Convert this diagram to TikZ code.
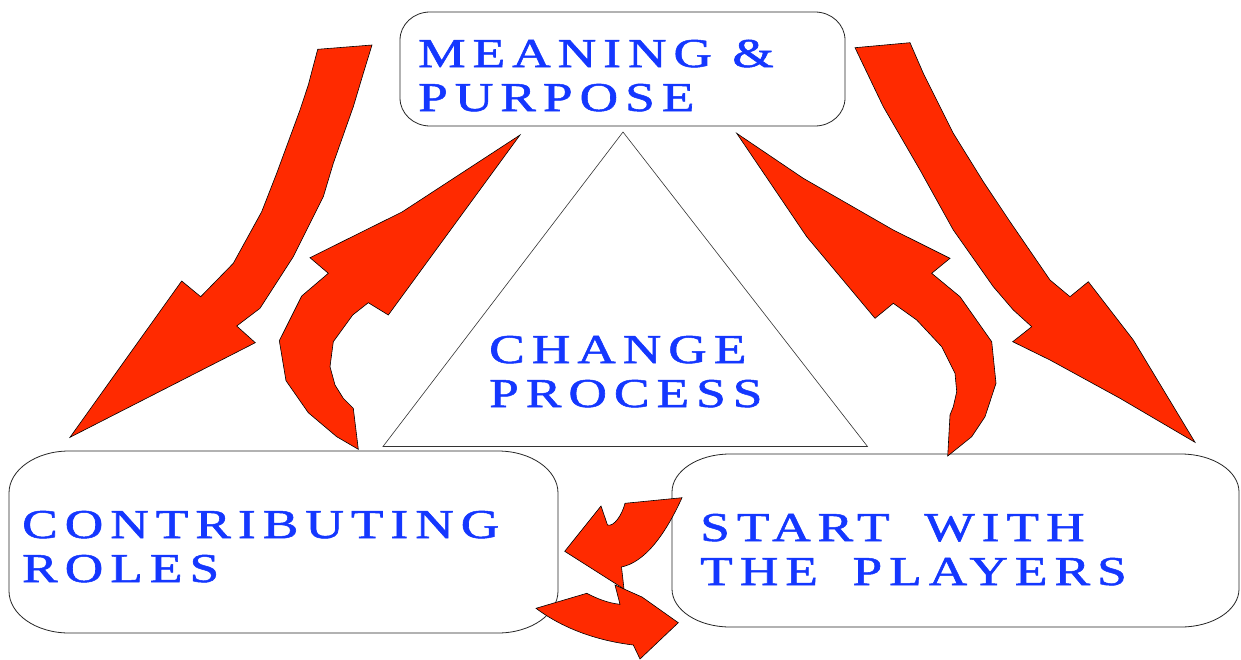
\documentclass[tikz,border=0pt]{standalone}
\usepackage{graphicx}
\usepackage{fontspec}
\newfontfamily\lblfont[LetterSpace=13.2, FakeBold=1.2]{Liberation Serif}

\definecolor{lblblue}{RGB}{20,55,255}
\definecolor{arrowred}{RGB}{255,42,0}

% rounded frame with elliptical corners: x0, y0, x1, y1, rx, ry
\newcommand\ovalrect[6]{%
  \draw[boxline] ({#1+#5},#2) -- ({#3-#5},#2)
    .. controls ({#3-0.448*#5},#2) and (#3,{#2+0.448*#6}) .. (#3,{#2+#6})
    -- (#3,{#4-#6})
    .. controls (#3,{#4-0.448*#6}) and ({#3-0.448*#5},#4) .. ({#3-#5},#4)
    -- ({#1+#5},#4)
    .. controls ({#1+0.448*#5},#4) and (#1,{#4-0.448*#6}) .. (#1,{#4-#6})
    -- (#1,{#2+#6})
    .. controls (#1,{#2+0.448*#6}) and ({#1+0.448*#5},#2) .. ({#1+#5},#2)
    -- cycle;}

% stretched, letter-spaced two-line caption
\newcommand\caplines[2]{\scalebox{1.3}[1]{\begin{tabular}[t]{@{}l@{}}#1\\#2\end{tabular}}}
% wider gap between words
\newcommand\wgap{\hspace{11pt}}

\begin{document}
\begin{tikzpicture}[x=1pt,y=-1pt,
  boxline/.style={draw=black!85, line width=0.8pt, fill=white},
  tri/.style={draw=black!80, line width=0.6pt},
  blockarrow/.style={fill=arrowred, draw=black, line width=0.6pt, line join=miter},
  lbl/.style={font=\lblfont\fontsize{41}{44}\selectfont, text=lblblue,
    inner sep=0pt, anchor=base west}]

\useasboundingbox[fill=white] (0,0) rectangle (1241,659);

% frames
\ovalrect{400}{12}{845}{126}{30}{28}
\ovalrect{9}{451}{558}{633}{60}{42}
\ovalrect{672}{454}{1239}{627}{58}{38}

% central triangle
\draw[tri] (623,132) -- (867.5,446.5) -- (383,446.5) -- cycle;

% captions
\node[lbl] (meaning) at (418,67) {\caplines{MEANING \&}{PURPOSE}};
\node[lbl] (change) at (489,363) {\caplines{CHANGE}{PROCESS}};
\node[lbl] (roles) at (22,538) {\caplines{CONTRIBUTING}{ROLES}};
\node[lbl] (players) at (700,541) {\caplines{START \wgap WITH}{THE \wgap PLAYERS}};

% left side: down-left arrow
\draw[blockarrow] (317.7,49.3) -- (372,45) -- (363.3,73.3) -- (353.3,106.7)
  -- (333.3,163.3) -- (323.3,196.7) -- (293.3,256.7) -- (260,308.3)
  -- (236.7,326) -- (255.3,342.7) -- (70,437.3) -- (181.7,281)
  -- (200.7,296.7) -- (233.3,263.3) -- (261.7,211.7) -- (276.7,173.3)
  -- (300,110) -- (308.3,85) -- cycle;

% left side: curved up-right arrow
\draw[blockarrow] (520,135) -- (388.3,315) -- (368.3,302.7) -- (352.7,315)
  -- (333.3,341.7) -- (330,366.7) -- (335,385) -- (343.3,398.3)
  -- (353.3,408.3) -- (358.3,449.3) -- (336.7,436.7) -- (308.3,412.7)
  -- (286,380.7) -- (279.3,340.7) -- (301.7,296) -- (328.3,273.3)
  -- (310,257.7) -- (402,212) -- cycle;

% right side: down-right arrow
\draw[blockarrow] (855,47.7) -- (910,42.7) -- (923.3,73.3) -- (953.3,133.3)
  -- (983.3,181.7) -- (1010,221.7) -- (1050,280) -- (1070,296.7)
  -- (1088.3,281.7) -- (1133.3,340) -- (1195,442.3) -- (1120,398.3)
  -- (1050,360) -- (1012.7,341.7) -- (1031.7,326.7) -- (1013.3,310)
  -- (993.3,286.7) -- (953.3,230) -- (920,170) -- (883.3,106.7) -- cycle;

% right side: curved up-left arrow
\draw[blockarrow] (736.7,133.3) -- (803.3,178.3) -- (893.3,230) -- (950,258.3)
  -- (931.7,273.3) -- (960,296.7) -- (991.7,341.7) -- (996,383.3)
  -- (985,416.7) -- (971.7,436.7) -- (947.7,456) -- (950,415)
  -- (953.3,406.7) -- (956.7,391.7) -- (955,373.3) -- (941.7,346.7)
  -- (916.7,320) -- (893.3,303.3) -- (875,318.3) -- (806.7,236.7) -- cycle;

% bottom: arrow turning left
\draw[blockarrow] (564.7,551.3) -- (601,506) -- (607.5,525)
  .. controls (614,527) and (622,515) .. (625,503.3)
  -- (682,497.7)
  .. controls (665,535) and (645,562) .. (621.5,567)
  -- (624,589) -- cycle;

% bottom: arrow turning right
\draw[blockarrow] (536,608.3) -- (586.7,593.3)
  .. controls (598,599) and (608,603) .. (620,604.3)
  -- (615,585) -- (642,597) -- (678.3,622.7) -- (640,659) -- (633.3,645)
  .. controls (600,641) and (565,630) .. (536,608.3) -- cycle;

\end{tikzpicture}
\end{document}
